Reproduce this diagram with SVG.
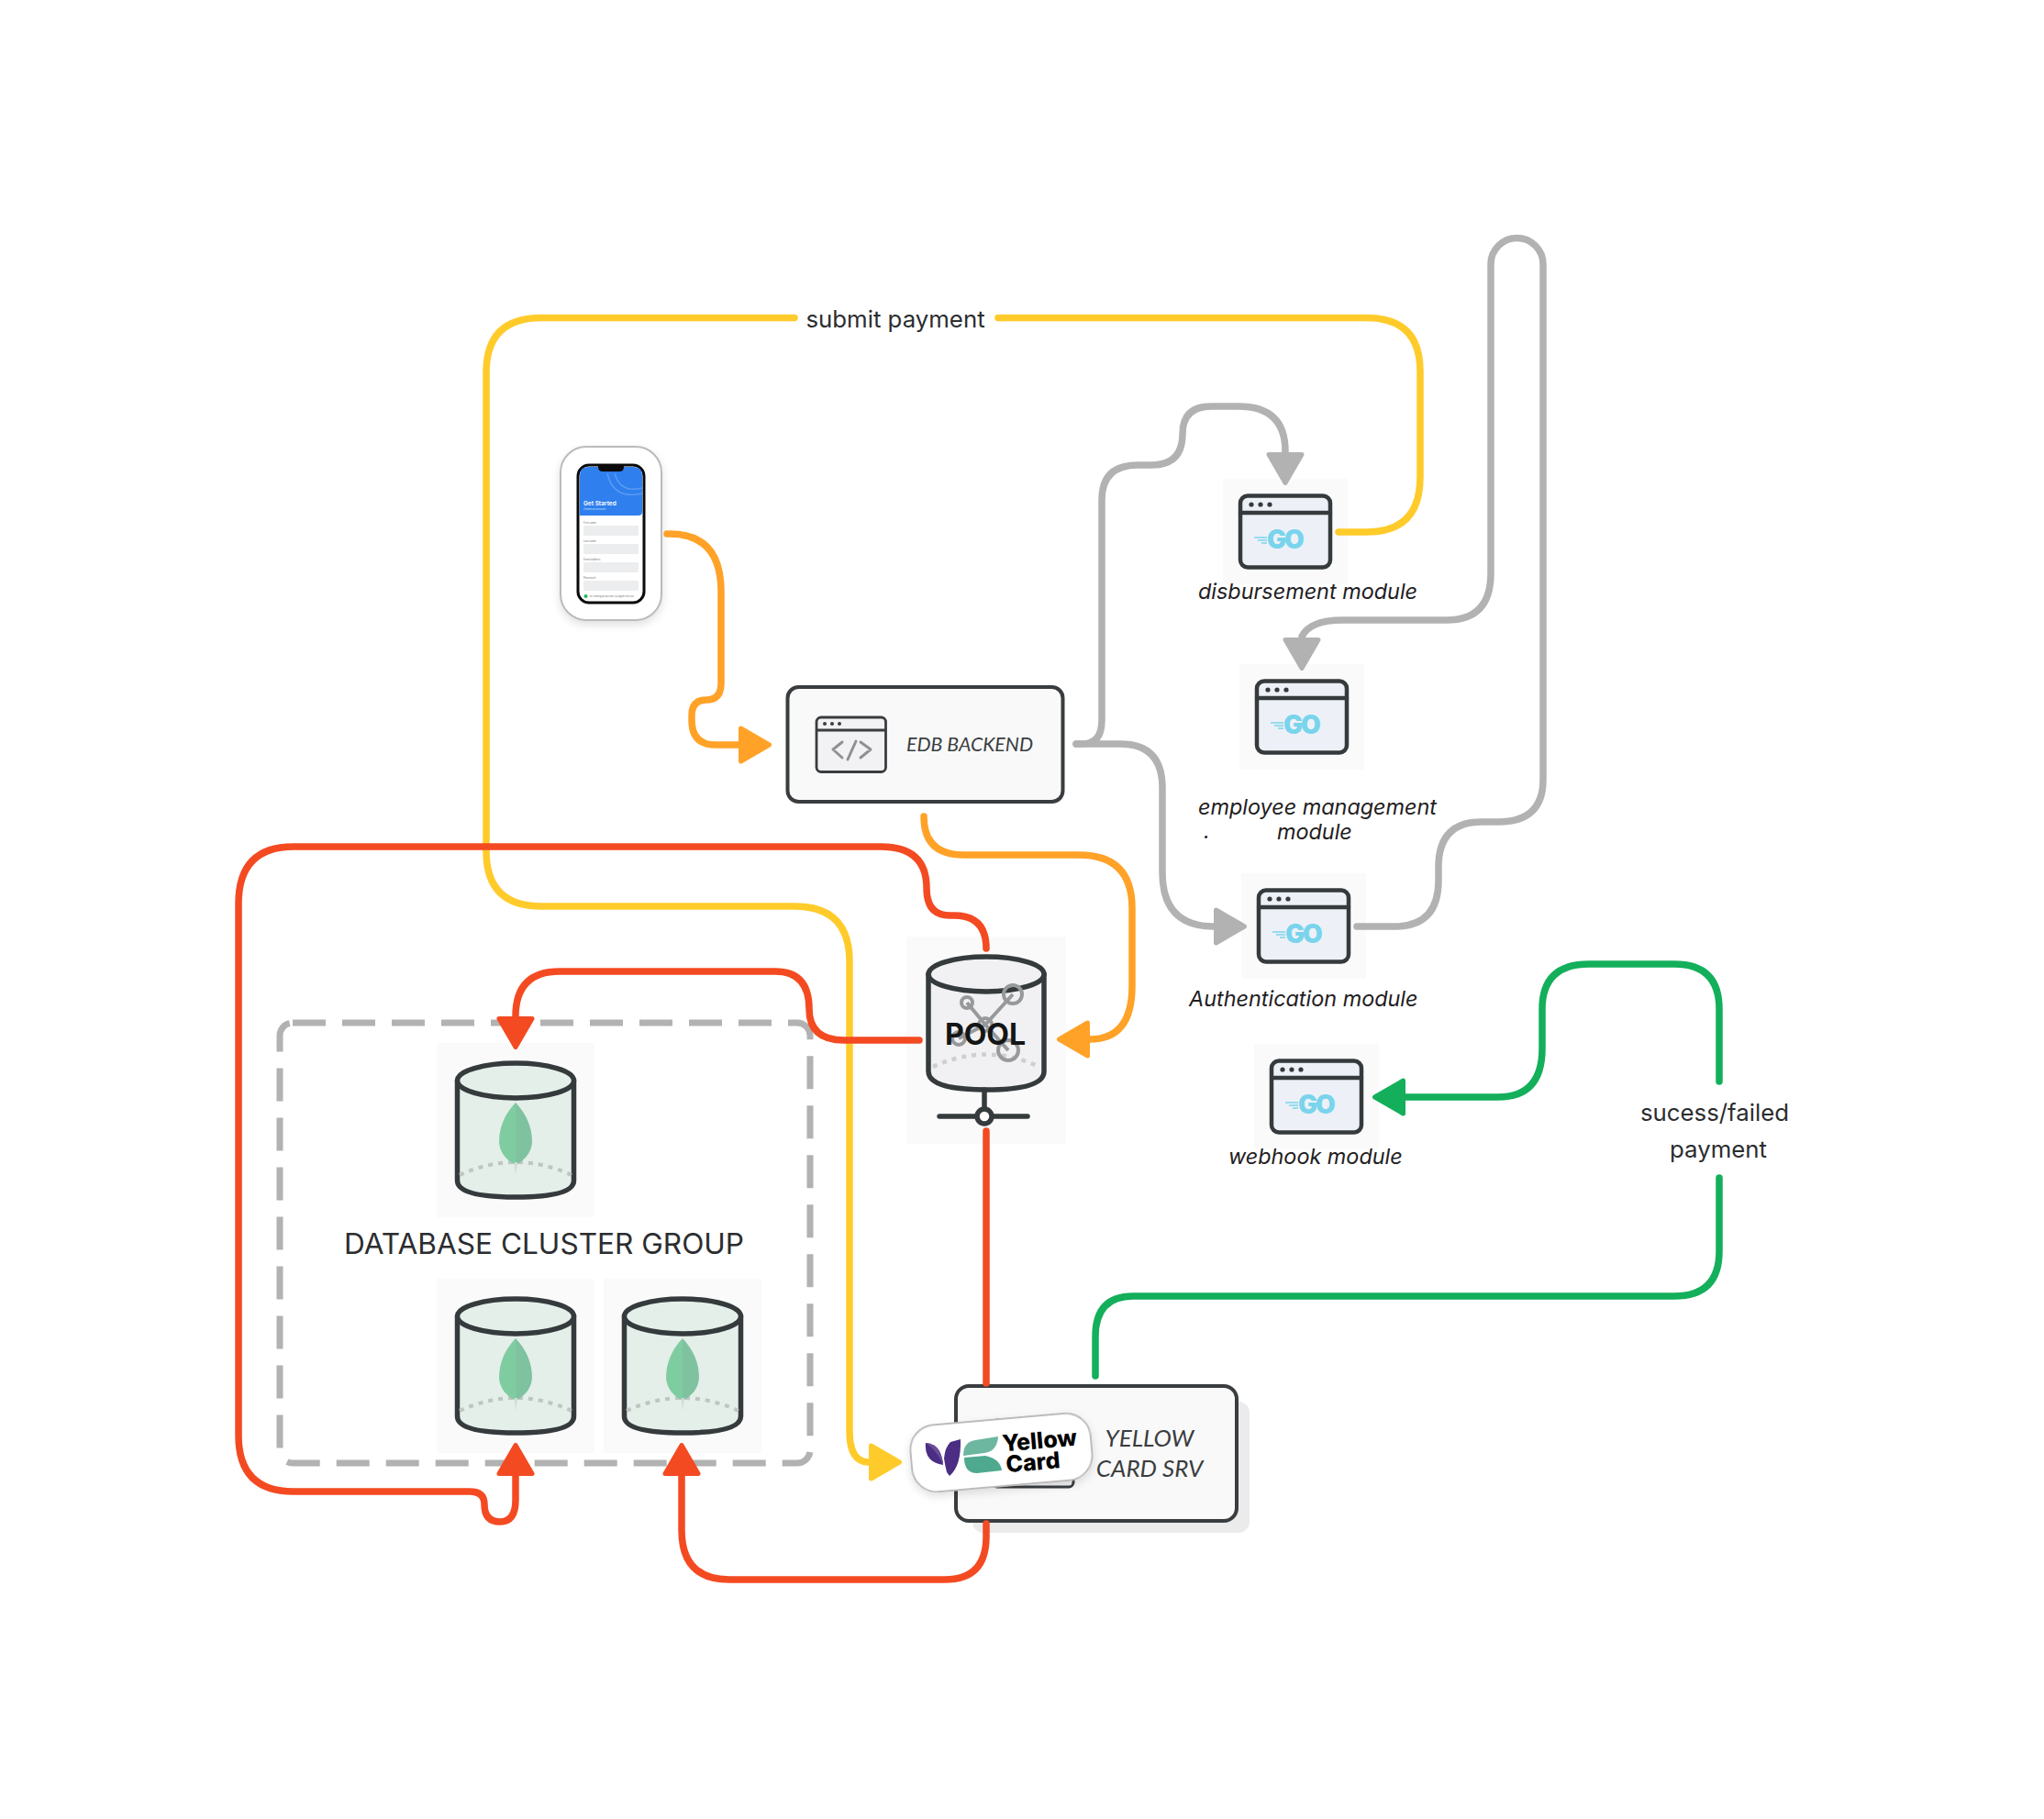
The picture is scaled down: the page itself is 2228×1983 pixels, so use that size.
<svg xmlns="http://www.w3.org/2000/svg" width="2228" height="1983" viewBox="0 0 2228 1983">
<style>
.c{fill:none;stroke-width:7.500;stroke-linecap:round;stroke-linejoin:round}
.y{stroke:#FFCB2B}.o{stroke:#FFA227}.g{stroke:#B2B2B2}.r{stroke:#F44A22}.n{stroke:#13AF5B}
.bg{fill:#FAFAFA}
.dk{stroke:#353A3C;stroke-width:4.500;stroke-linejoin:round;stroke-linecap:round}
.dkc{stroke:#353A3C;stroke-width:5.500;stroke-linejoin:round;stroke-linecap:round}
.lbl{font-family:"Inter","Liberation Sans",sans-serif;fill:#2B2D2F;font-size:25.800px}
.mod{font-family:"Inter","Liberation Sans",sans-serif;font-style:italic;fill:#1F2022;font-size:23.400px}
.box{font-family:"Lato","Open Sans",sans-serif;font-style:italic;fill:#3A3D3F}
.go{font-family:"Inter","Liberation Sans",sans-serif;font-weight:900;font-size:28px;fill:#79D4EC;letter-spacing:-2px}
.tiny{font-family:"Inter","Liberation Sans",sans-serif;fill:#777;font-size:3.500px}
</style>
<defs>
<marker id="aY" markerUnits="userSpaceOnUse" markerWidth="40" markerHeight="44" refX="0" refY="0" orient="auto" overflow="visible"><path d="M2.500 -18 L33.500 0 L2.500 18Z" fill="#FFCB2B" stroke="#FFCB2B" stroke-width="5" stroke-linejoin="round"/></marker>
<marker id="aO" markerUnits="userSpaceOnUse" markerWidth="40" markerHeight="44" refX="0" refY="0" orient="auto" overflow="visible"><path d="M2.500 -18 L33.500 0 L2.500 18Z" fill="#FFA227" stroke="#FFA227" stroke-width="5" stroke-linejoin="round"/></marker>
<marker id="aG" markerUnits="userSpaceOnUse" markerWidth="40" markerHeight="44" refX="0" refY="0" orient="auto" overflow="visible"><path d="M2.500 -18 L33.500 0 L2.500 18Z" fill="#B2B2B2" stroke="#B2B2B2" stroke-width="5" stroke-linejoin="round"/></marker>
<marker id="aR" markerUnits="userSpaceOnUse" markerWidth="40" markerHeight="44" refX="0" refY="0" orient="auto" overflow="visible"><path d="M2.500 -18 L33.500 0 L2.500 18Z" fill="#F44A22" stroke="#F44A22" stroke-width="5" stroke-linejoin="round"/></marker>
<marker id="aN" markerUnits="userSpaceOnUse" markerWidth="40" markerHeight="44" refX="0" refY="0" orient="auto" overflow="visible"><path d="M2.500 -18 L33.500 0 L2.500 18Z" fill="#13AF5B" stroke="#13AF5B" stroke-width="5" stroke-linejoin="round"/></marker>
<filter id="sh" x="-20%" y="-20%" width="140%" height="150%"><feDropShadow dx="0" dy="4" stdDeviation="5" flood-color="#000" flood-opacity="0.12"/></filter>
<g id="goWin">
<rect x="0" y="0" width="136" height="115" class="bg"/>
<rect x="19" y="18.500" width="98" height="78" rx="8" fill="#EDF1F7" class="dk"/>
<path d="M19 37H117" class="dk" fill="none"/>
<circle cx="31" cy="28" r="2.600" fill="#353A3C"/><circle cx="41" cy="28" r="2.600" fill="#353A3C"/><circle cx="51" cy="28" r="2.600" fill="#353A3C"/>
<path d="M34 64H48M38 67H48M42 70H48" stroke="#79D4EC" stroke-width="1.400" fill="none"/>
</g>
<g id="mongo">
<rect x="0" y="0" width="172" height="190" class="bg"/>
<path d="M22.500 41V150Q22.500 168 86 168Q149.500 168 149.500 150V41Z" fill="#E4EFE9" class="dkc"/>
<path d="M25 144Q86 116 147 144" fill="none" stroke="#BFC6C2" stroke-width="4" stroke-dasharray="5 6"/>
<ellipse cx="86" cy="41" rx="63.500" ry="19" fill="#E4EFE9" class="dkc"/>
<path d="M86 65Q68 84 68 108Q69 124 86 133Z" fill="#80CCA1"/>
<path d="M86 65Q104 84 104 108Q103 124 86 133Z" fill="#7FC2A0"/>
<path d="M84.500 130L86 144L88 130Z" fill="#D5DAD7"/>
</g>
</defs>

<g id="group-db">
<rect x="305" y="1115" width="578" height="480" rx="14" fill="none" stroke="#B2B2B2" stroke-width="7" stroke-dasharray="36 18"/>
<text x="593" y="1367" text-anchor="middle" class="lbl" style="font-size:31.600px">DATABASE CLUSTER GROUP</text>
</g>

<g id="phone">
<rect x="611" y="487" width="110" height="189" rx="28" fill="#fff" stroke="#BBBBBB" stroke-width="2" filter="url(#sh)"/>
<rect x="630" y="507" width="72" height="150" rx="12" fill="#fff" stroke="#0A0A0A" stroke-width="3"/>
<path d="M632 562V518Q632 509 642 509H690Q700 509 700 518V558Q700 562 696 562Z" fill="#2F7FEE"/>
<path d="M652 506H680V509Q680 514 675 514H657Q652 514 652 509Z" fill="#0A0A0A"/>
<path d="M662 516Q668 545 700 538M670 516Q676 538 700 532" fill="none" stroke="#5A9AF2" stroke-width="1.500"/>
<text x="636" y="551" font-family="Inter,'Liberation Sans',sans-serif" font-size="6.500" font-weight="600" fill="#fff">Get Started</text>
<text x="636" y="556" class="tiny" style="fill:#cfe0fb;font-size:2.800px">Create an account</text>
<g fill="#ECEDEE"><rect x="636" y="573" width="60" height="11" rx="1.500"/><rect x="636" y="593" width="60" height="11" rx="1.500"/><rect x="636" y="613" width="60" height="11" rx="1.500"/><rect x="636" y="633" width="60" height="11" rx="1.500"/></g>
<g class="tiny" style="font-size:2.800px"><text x="636" y="571">First name</text><text x="636" y="591">Last name</text><text x="636" y="611">Email address</text><text x="636" y="631">Password</text></g>
<circle cx="638.500" cy="650" r="2" fill="#1FB45E"/>
<text x="643" y="651" class="tiny" style="font-size:2.400px">By creating an account you agree with our</text>
</g>

<g id="edb-backend">
<rect x="858.500" y="749" width="300" height="125" rx="12" fill="#F9F9F9" stroke="#3A3D3F" stroke-width="4"/>
<rect x="890" y="782" width="75.500" height="59.500" rx="5" fill="#F2F2F4" stroke="#3A3D3F" stroke-width="2.800"/>
<path d="M890 796H965" stroke="#3A3D3F" stroke-width="2.800"/>
<circle cx="899" cy="789" r="2" fill="#3A3D3F"/><circle cx="907" cy="789" r="2" fill="#3A3D3F"/><circle cx="915" cy="789" r="2" fill="#3A3D3F"/>
<path d="M918 809L908 817L918 826M938 809L949 817L938 826M933 808L924 828" fill="none" stroke="#8F9193" stroke-width="3" stroke-linecap="round" stroke-linejoin="round"/>
<text x="988" y="819" class="box" font-size="21.300">EDB BACKEND</text>
</g>

<g id="pool">
<rect x="988" y="1021" width="174" height="226" class="bg"/>
<path d="M1012 1062V1168Q1012 1188 1075 1188Q1138 1188 1138 1168V1062Z" fill="#F1F1F3" class="dkc"/>
<path d="M1017 1163Q1075 1136 1133 1163" fill="none" stroke="#CFCFCF" stroke-width="4.500" stroke-dasharray="5 6"/>
<ellipse cx="1075" cy="1062" rx="63" ry="19" fill="#F1F1F3" class="dkc"/>
<g fill="none" stroke="#97999B" stroke-width="4"><path d="M1054 1093L1074 1117L1104 1084M1074 1117L1045 1132M1074 1117L1099 1145"/><circle cx="1054" cy="1093" r="6"/><circle cx="1104" cy="1084" r="10"/><circle cx="1074" cy="1117" r="7"/><circle cx="1045" cy="1132" r="7"/><circle cx="1099" cy="1145" r="11"/></g>
<text x="1074" y="1139" text-anchor="middle" font-family="Inter,'Liberation Sans',sans-serif" font-weight="700" font-size="32px" fill="#141516">POOL</text>
<path d="M1073 1188V1209M1024 1217H1120" class="dkc" fill="none"/>
<circle cx="1073" cy="1217" r="8" fill="#fff" class="dkc"/>
</g>

<g id="mongo-1"><use href="#mongo" x="476" y="1137"/></g>
<g id="mongo-2"><use href="#mongo" x="476" y="1394"/></g>
<g id="mongo-3"><use href="#mongo" x="658" y="1394"/></g>

<g id="disbursement-module"><use href="#goWin" x="1333" y="522"/><text x="1381" y="598" class="go">GO</text><text x="1306" y="652.500" class="mod">disbursement module</text></g>
<g id="employee-module"><use href="#goWin" x="1351" y="724"/><text x="1399" y="800" class="go">GO</text><text x="1306" y="887.500" class="mod">employee management</text><text x="1312" y="914" class="mod">.</text><text x="1392" y="914.500" class="mod">module</text></g>
<g id="auth-module"><use href="#goWin" x="1353" y="952"/><text x="1401" y="1028" class="go">GO</text><text x="1296" y="1096.500" class="mod">Authentication module</text></g>
<g id="webhook-module"><use href="#goWin" x="1367" y="1138"/><text x="1415" y="1214" class="go">GO</text><text x="1339" y="1268.500" class="mod">webhook module</text></g>

<g id="yellow-card">
<rect x="1060" y="1528" width="302" height="143" rx="12" fill="#EBEBEB"/>
<rect x="1042" y="1511" width="306" height="147" rx="14" fill="#F9F9F9" stroke="#3A3D3F" stroke-width="4"/>
<rect x="1082" y="1548" width="88" height="73" rx="5" fill="#F2F2F4" stroke="#3A3D3F" stroke-width="3"/>
<text x="1253" y="1577" text-anchor="middle" class="box" font-size="26">YELLOW</text>
<text x="1253" y="1610" text-anchor="middle" class="box" font-size="26">CARD SRV</text>
<g transform="rotate(-5 1092 1584)"><rect x="993" y="1547" width="197" height="73" rx="27" fill="#fff" stroke="#BBBBBB" stroke-width="2" filter="url(#sh)"/></g>
<path d="M1009 1573Q1026 1574 1028 1597Q1007 1594 1009 1573Z" fill="#4B2E83"/>
<path d="M1009 1573Q1022 1582 1028 1597Q1026 1574 1009 1573Z" fill="#6B4D9A"/>
<path d="M1036 1572L1047 1569Q1048 1598 1035 1609L1032 1605Q1030 1597 1029 1590Q1030 1578 1036 1572Z" fill="#4B2E83"/>
<path d="M1050 1587Q1050 1572 1063 1570L1088 1566Q1087 1582 1073 1584Z" fill="#6DB6A0"/>
<path d="M1051 1589L1074 1587Q1090 1590 1092 1603L1065 1606Q1051 1606 1051 1589Z" fill="#4FA98E"/>
<g transform="rotate(-5 1135 1590)" font-family="Inter,'Liberation Sans',sans-serif" font-weight="800" fill="#000"><text x="1094" y="1579" font-size="25">Yellow</text><text x="1096" y="1602" font-size="25">Card</text></g>
</g>

<g id="connectors">
<path class="c y" d="M1459 580H1490Q1548 580 1548 520V405Q1548 346.500 1490 346.500H1088M866 346.500H590Q530 346.500 530 406V928Q530 988 590 988H866Q926 988 926 1048V1560Q926 1594 947 1594" marker-end="url(#aY)"/>
<path class="c o" d="M727 582H730Q786 582 786 645V745Q786 763 770 763Q754 763 754 780V785Q754 812 780 812H805" marker-end="url(#aO)"/>
<path class="c o" d="M1007 890Q1007 932 1050 932H1176Q1234 932 1234 990V1075Q1234 1133 1188 1133" marker-end="url(#aO)"/>
<path class="c g" d="M1173 811H1180Q1201 811 1201 785V545Q1201 507 1240 507H1255Q1289 507 1289 473Q1289 443 1320 443H1350Q1401 443 1401 492V493" marker-end="url(#aG)"/>
<path class="c g" d="M1173 811H1221Q1267 811 1267 859V951Q1267 1010 1323 1010" marker-end="url(#aG)"/>
<path class="c g" d="M1479 1010H1520Q1568 1010 1568 960V945Q1568 896 1615 896H1633Q1682 896 1682 850V288A28.500 28.500 0 0 0 1625 288V625Q1625 676 1577 676H1463Q1428 676 1419 694V695" marker-end="url(#aG)"/>
<path class="c r" d="M1075 1034Q1075 998 1040 998H1035Q1010 998 1010 968Q1010 923 960 923H320Q260 923 260 985V1565Q260 1626 320 1626H512Q528 1626 528 1640Q528 1659 545 1659Q562 1659 562 1635V1609" marker-end="url(#aR)"/>
<path class="c r" d="M1002 1134H920Q882 1134 882 1100Q882 1059 845 1059H610Q562 1059 562 1108" marker-end="url(#aR)"/>
<path class="c r" d="M1075 1233V1508M1075 1661V1675Q1075 1722 1030 1722H795Q743 1722 743 1668V1609" marker-end="url(#aR)"/>
<path class="c n" d="M1194 1500V1457Q1194 1413 1235 1413H1825Q1874 1413 1874 1364V1284M1874 1179V1100Q1874 1051 1825 1051H1732Q1681 1051 1681 1100V1143Q1681 1196 1633 1196H1532" marker-end="url(#aN)"/>
<text x="976" y="357" text-anchor="middle" class="lbl">submit payment</text>
<text x="1869" y="1222" text-anchor="middle" class="lbl">sucess/failed</text>
<text x="1873" y="1262" text-anchor="middle" class="lbl">payment</text>
</g>
</svg>
